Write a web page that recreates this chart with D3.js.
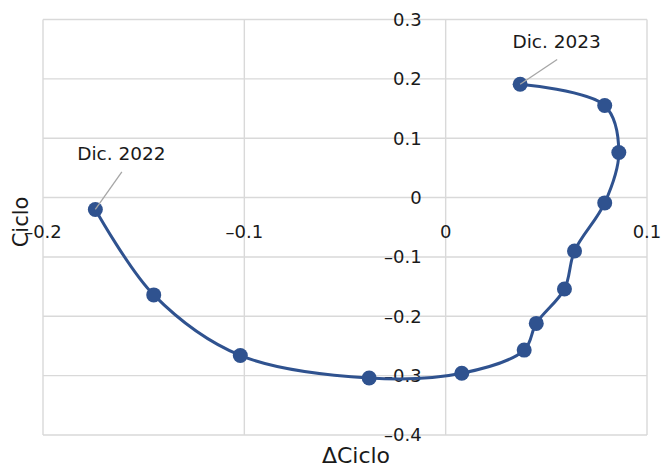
<!DOCTYPE html>
<html>
<head>
<meta charset="utf-8">
<script src="https://cdn.jsdelivr.net/npm/d3@7"></script>
<style>
  body { margin: 0; background: #fff; }
  text { font-family: "DejaVu Sans", sans-serif; fill: #1a1a1a; }
</style>
</head>
<body>
<div class="chart"></div>
<script>
// datos: ΔCiclo (x) y Ciclo (y), dic. 2022 -> dic. 2023
var months = ["Dic. 2022", "Ene", "Feb", "Mar", "Abr", "May", "Jun", "Jul", "Ago", "Sep", "Oct", "Nov", "Dic. 2023"];
var deltaCiclo = [-0.174, -0.145, -0.102, -0.038, 0.008, 0.039, 0.045, 0.059, 0.064, 0.079, 0.086, 0.079, 0.037];
var ciclo = [-0.020, -0.164, -0.266, -0.304, -0.296, -0.257, -0.212, -0.154, -0.090, -0.009, 0.076, 0.155, 0.191];
var xTicks = [-0.2, -0.1, 0, 0.1];
var yTicks = [0.3, 0.2, 0.1, 0, -0.1, -0.2, -0.3, -0.4];
var labeled = ["Dic. 2022", "Dic. 2023"];

var width = 661;
var height = 468;

var svg = d3.select(".chart")
  .append("svg")
  .attr("width", width)
  .attr("height", height);

var x = d3.scaleLinear().domain([-0.2, 0.1]).range([43, 647]);
var y = d3.scaleLinear().domain([-0.4, 0.3]).range([435, 19.5]);

// formato tipo Excel: 0, 0.1, -0.2 (guion largo)
var fmt = function (d) { return d === 0 ? "0" : (+d.toFixed(1)).toString().replace("-", "\u2013"); };

// rejilla
svg.append("g")
  .selectAll("line")
  .data(xTicks)
  .enter()
  .append("line")
  .attr("x1", (d) => x(d)).attr("x2", (d) => x(d))
  .attr("y1", y(0.3)).attr("y2", y(-0.4))
  .attr("stroke", "#d9d9d9")
  .attr("stroke-width", 1.4);

svg.append("g")
  .selectAll("line")
  .data(yTicks)
  .enter()
  .append("line")
  .attr("x1", x(-0.2)).attr("x2", x(0.1))
  .attr("y1", (d) => y(d)).attr("y2", (d) => y(d))
  .attr("stroke", "#d9d9d9")
  .attr("stroke-width", 1.4);

// etiquetas de los ejes (cruzan en 0)
svg.append("g")
  .selectAll("text")
  .data(xTicks)
  .enter()
  .append("text")
  .attr("x", (d) => x(d))
  .attr("y", y(0) + 40.5)
  .attr("text-anchor", "middle")
  .style("font-size", "18px")
  .text(fmt);

svg.append("g")
  .selectAll("text")
  .data(yTicks)
  .enter()
  .append("text")
  .attr("x", x(0) - 24)
  .attr("y", (d) => y(d))
  .attr("dy", "0.36em")
  .attr("text-anchor", "end")
  .style("font-size", "18px")
  .text(fmt);

// títulos
svg.append("text")
  .attr("x", 356)
  .attr("y", 462.5)
  .attr("text-anchor", "middle")
  .style("font-size", "22px")
  .text("\u0394Ciclo");

svg.append("text")
  .attr("transform", "translate(28, 222) rotate(-90)")
  .attr("text-anchor", "middle")
  .style("font-size", "21px")
  .text("Ciclo");

// serie
var points = months.map((m, i) => ({ label: m, x: deltaCiclo[i], y: ciclo[i] }));

var line = d3.line()
  .x((d) => x(d.x))
  .y((d) => y(d.y))
  .curve(d3.curveCatmullRom.alpha(0.5));

svg.append("path")
  .datum(points)
  .attr("fill", "none")
  .attr("stroke", "#2f528f")
  .attr("stroke-width", 3)
  .attr("d", line);

svg.append("g")
  .selectAll("circle")
  .data(points)
  .enter()
  .append("circle")
  .attr("cx", (d) => x(d.x))
  .attr("cy", (d) => y(d.y))
  .attr("r", 7.5)
  .attr("fill", "#2f528f");

// etiquetas de datos con línea guía
var callouts = points.filter((d) => labeled.indexOf(d.label) >= 0);
var offsets = { "Dic. 2022": [26.5, -37.5], "Dic. 2023": [37, -24.7] };

svg.append("g")
  .selectAll("line")
  .data(callouts)
  .enter()
  .append("line")
  .attr("x1", (d) => x(d.x))
  .attr("y1", (d) => y(d.y))
  .attr("x2", (d) => x(d.x) + offsets[d.label][0])
  .attr("y2", (d) => y(d.y) + offsets[d.label][1])
  .attr("stroke", "#a6a6a6")
  .attr("stroke-width", 1.3);

svg.append("g")
  .selectAll("text")
  .data(callouts)
  .enter()
  .append("text")
  .attr("x", (d) => x(d.x) + offsets[d.label][0] - 0.5)
  .attr("y", (d) => y(d.y) + offsets[d.label][1] - 11.5)
  .attr("text-anchor", "middle")
  .style("font-size", "18.5px")
  .text((d) => d.label);
</script>
</body>
</html>
